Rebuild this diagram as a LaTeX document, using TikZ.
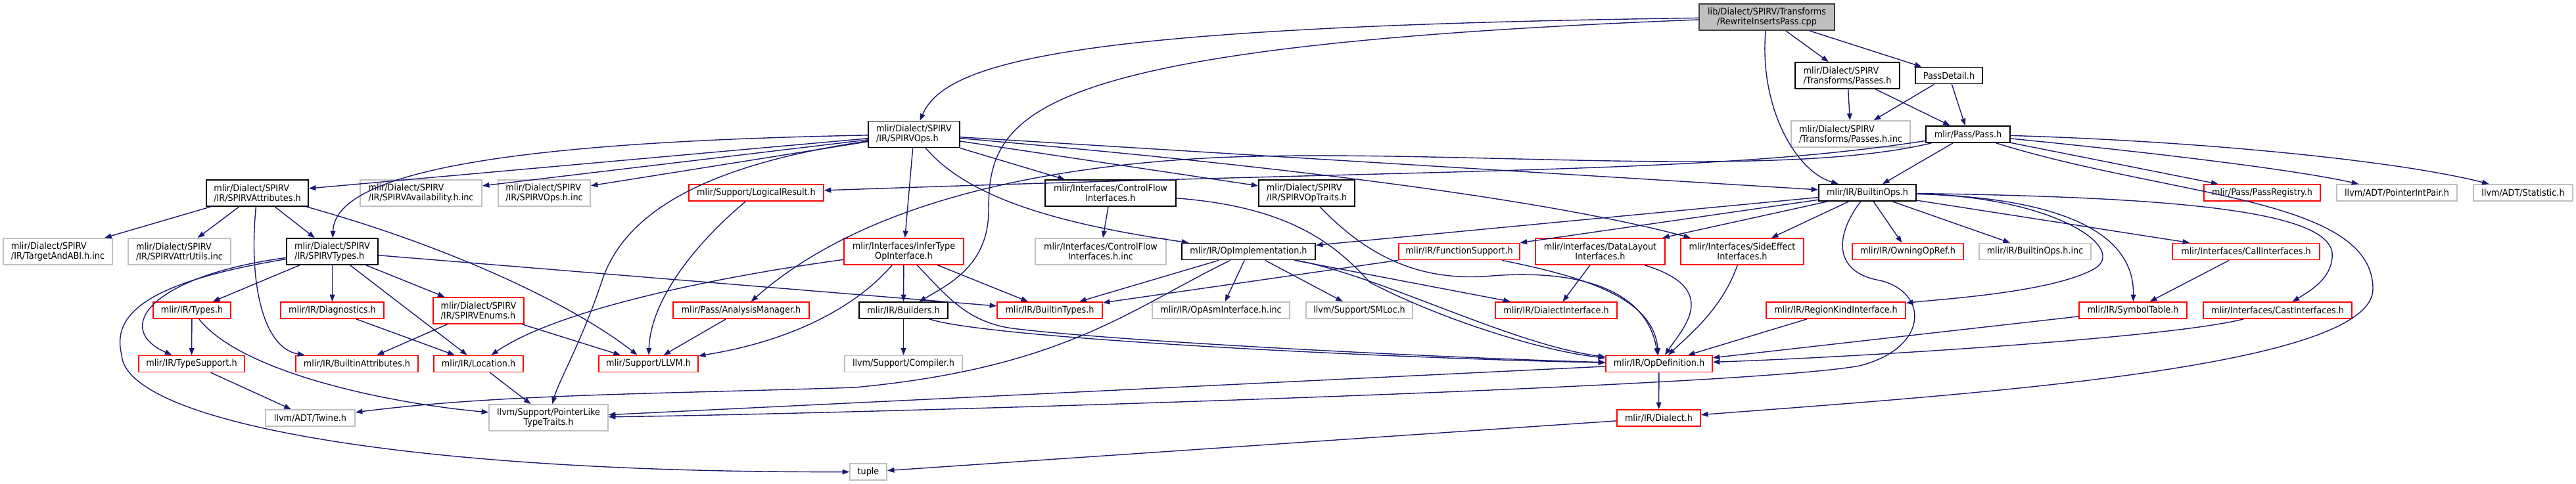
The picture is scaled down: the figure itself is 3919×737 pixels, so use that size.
\documentclass[tikz,border=0pt]{standalone}
\usepackage{fontspec}
\setmainfont{DejaVu Sans}[FakeStretch=0.91]
\usetikzlibrary{arrows.meta}
\usepackage{xcolor}

\definecolor{edgeblue}{HTML}{191970}
\definecolor{extgray}{HTML}{BFBFBF}
\definecolor{rootline}{HTML}{404040}

\begin{document}
\begin{tikzpicture}[x=0.25mm, y=-0.25mm,
        box/.style={draw, rectangle, fill=white, inner sep=0pt, line width=1.2pt,
                    font=\fontsize{10}{10.7}\selectfont},
        docbox/.style={box, draw=black},
        redbox/.style={box, draw=red},
        extbox/.style={box, draw=extgray},
        rootbox/.style={box, draw=rootline, fill=extgray},
        bw/.style={minimum width=#1*0.25mm},
        oneline/.style={minimum height=25*0.25mm},
        twoline/.style={minimum height=40*0.25mm, align=left},
        twolinec/.style={minimum height=40*0.25mm, align=center},
        dep/.style={draw=edgeblue, line width=1pt, -{Triangle[length=7.5pt, width=5.5pt]}}
    ]
        \useasboundingbox (0,0) rectangle (3919,737);

        \node[rootbox, bw=206, twolinec] (root) at (2688,26) {lib/Dialect/SPIRV/Transforms\\/RewriteInsertsPass.cpp};

        \node[docbox, bw=159, twoline] (passesH) at (2810.5,115) {mlir/Dialect/SPIRV\\/Transforms/Passes.h};
        \node[docbox, bw=102, oneline] (passDetail) at (2965,115) {PassDetail.h};

        \node[docbox, bw=139, twoline] (spirvOps) at (1390.5,204.5) {mlir/Dialect/SPIRV\\/IR/SPIRVOps.h};
        \node[extbox, bw=181, twoline] (passesInc) at (2815.5,204) {mlir/Dialect/SPIRV\\/Transforms/Passes.h.inc};
        \node[docbox, bw=128, oneline] (pass) at (2994,204.5) {mlir/Pass/Pass.h};

        \node[docbox, bw=155, twoline] (spirvAttr) at (391.5,294) {mlir/Dialect/SPIRV\\/IR/SPIRVAttributes.h};
        \node[extbox, bw=185, twoline] (spirvAvail) at (640.5,294) {mlir/Dialect/SPIRV\\/IR/SPIRVAvailability.h.inc};
        \node[extbox, bw=140, twoline] (spirvOpsInc) at (828,294) {mlir/Dialect/SPIRV\\/IR/SPIRVOps.h.inc};
        \node[redbox, bw=205, oneline] (logicalResult) at (1150.5,293.5) {mlir/Support/LogicalResult.h};
        \node[docbox, bw=199, twolinec] (controlFlow) at (1689.5,294) {mlir/Interfaces/ControlFlow\\Interfaces.h};
        \node[docbox, bw=146, twoline] (spirvOpTraits) at (1988,294) {mlir/Dialect/SPIRV\\/IR/SPIRVOpTraits.h};
        \node[docbox, bw=148, oneline] (builtinOps) at (2841,293.5) {mlir/IR/BuiltinOps.h};
        \node[redbox, bw=177, oneline] (passRegistry) at (3441.5,293.5) {mlir/Pass/PassRegistry.h};
        \node[extbox, bw=183, oneline] (pointerIntPair) at (3646.5,293.5) {llvm/ADT/PointerIntPair.h};
        \node[extbox, bw=151, oneline] (statistic) at (3838.5,293.5) {llvm/ADT/Statistic.h};

        \node[extbox, bw=166, twoline] (targetAbi) at (88,383) {mlir/Dialect/SPIRV\\/IR/TargetAndABI.h.inc};
        \node[extbox, bw=156, twoline] (attrUtils) at (273,383) {mlir/Dialect/SPIRV\\/IR/SPIRVAttrUtils.inc};
        \node[docbox, bw=139, twoline] (spirvTypes) at (505.5,383) {mlir/Dialect/SPIRV\\/IR/SPIRVTypes.h};
        \node[redbox, bw=182, twolinec] (inferType) at (1375,383) {mlir/Interfaces/InferType\\OpInterface.h};
        \node[extbox, bw=199, twolinec] (controlFlowInc) at (1674.5,383) {mlir/Interfaces/ControlFlow\\Interfaces.h.inc};
        \node[docbox, bw=203, oneline] (opImpl) at (1899.5,383) {mlir/IR/OpImplementation.h};
        \node[redbox, bw=184, oneline] (funcSupport) at (2220,383) {mlir/IR/FunctionSupport.h};
        \node[redbox, bw=197, twolinec] (dataLayout) at (2434.5,383) {mlir/Interfaces/DataLayout\\Interfaces.h};
        \node[redbox, bw=187, twolinec] (sideEffect) at (2650.5,383) {mlir/Interfaces/SideEffect\\Interfaces.h};
        \node[redbox, bw=169, oneline] (owningOpRef) at (2902.5,383) {mlir/IR/OwningOpRef.h};
        \node[extbox, bw=170, oneline] (builtinOpsInc) at (3096,383) {mlir/IR/BuiltinOps.h.inc};
        \node[redbox, bw=224, oneline] (callIfaces) at (3417,383) {mlir/Interfaces/CallInterfaces.h};

        \node[redbox, bw=118, oneline] (types) at (292,472.5) {mlir/IR/Types.h};
        \node[redbox, bw=157, oneline] (diagnostics) at (505.5,472.5) {mlir/IR/Diagnostics.h};
        \node[redbox, bw=138, twoline] (spirvEnums) at (728,473) {mlir/Dialect/SPIRV\\/IR/SPIRVEnums.h};
        \node[redbox, bw=207, oneline] (analysisMgr) at (1127.5,472.5) {mlir/Pass/AnalysisManager.h};
        \node[docbox, bw=135, oneline] (builders) at (1374.5,472.5) {mlir/IR/Builders.h};
        \node[redbox, bw=160, oneline] (builtinTypes) at (1597,472.5) {mlir/IR/BuiltinTypes.h};
        \node[extbox, bw=209, oneline] (opAsmInc) at (1857.5,472.5) {mlir/IR/OpAsmInterface.h.inc};
        \node[extbox, bw=162, oneline] (smLoc) at (2068,472.5) {llvm/Support/SMLoc.h};
        \node[redbox, bw=185, oneline] (dialectIface) at (2367.5,472.5) {mlir/IR/DialectInterface.h};
        \node[redbox, bw=212, oneline] (regionKind) at (2793,472.5) {mlir/IR/RegionKindInterface.h};
        \node[redbox, bw=164, oneline] (symbolTable) at (3245,472.5) {mlir/IR/SymbolTable.h};
        \node[redbox, bw=226, oneline] (castIfaces) at (3465,472.5) {mlir/Interfaces/CastInterfaces.h};

        \node[redbox, bw=161, oneline] (typeSupport) at (291.5,554) {mlir/IR/TypeSupport.h};
        \node[redbox, bw=186, oneline] (builtinAttrs) at (543,554) {mlir/IR/BuiltinAttributes.h};
        \node[redbox, bw=136, oneline] (location) at (728,554) {mlir/IR/Location.h};
        \node[redbox, bw=151, oneline] (llvmH) at (986.5,554) {mlir/Support/LLVM.h};
        \node[extbox, bw=179, oneline] (compiler) at (1374.5,554) {llvm/Support/Compiler.h};
        \node[redbox, bw=162, oneline] (opDef) at (2524,554) {mlir/IR/OpDefinition.h};

        \node[extbox, bw=136, oneline] (twine) at (472,636.5) {llvm/ADT/Twine.h};
        \node[extbox, bw=181, twolinec] (pointerLike) at (834.5,636) {llvm/Support/PointerLike\\TypeTraits.h};
        \node[redbox, bw=127, oneline] (dialect) at (2523.5,636.5) {mlir/IR/Dialect.h};

        \node[extbox, bw=56, oneline] (tuple) at (1321,718.5) {tuple};

        \draw[dep] (root) .. controls (1650,40) and (1440,90) .. (spirvOps);
        \draw[dep] (root) .. controls (1560,70) and (1504,170) .. (1504,320) .. controls (1504,400) and (1450,430) .. (builders);
        \draw[dep] (root) -- (passesH);
        \draw[dep] (root) -- (passDetail);
        \draw[dep] (root) .. controls (2676,160) and (2730,260) .. (builtinOps);

        \draw[dep] (passesH) -- (passesInc);
        \draw[dep] (passesH) -- (pass);
        \draw[dep] (passDetail) -- (passesInc);
        \draw[dep] (passDetail) -- (pass);

        \draw[dep] (pass) -- (builtinOps);
        \draw[dep] (pass) -- (passRegistry);
        \draw[dep] (pass) .. controls (3300,235) and (3500,260) .. (pointerIntPair);
        \draw[dep] (pass) .. controls (3350,215) and (3650,245) .. (statistic);
        \draw[dep] (pass) .. controls (2600,265) and (2250,255) .. (logicalResult);
        \draw[dep] (pass) .. controls (2700,275) and (2200,225) .. (1850,240) .. controls (1550,255) and (1300,320) .. (analysisMgr);
        \draw[dep] (pass) .. controls (3300,300) and (3610,300) .. (3610,440) .. controls (3610,560) and (3000,600) .. (dialect);

        \draw[dep] (spirvOps) -- (spirvAttr);
        \draw[dep] (spirvOps) .. controls (850,215) and (510,250) .. (spirvTypes);
        \draw[dep] (spirvOps) -- (spirvAvail);
        \draw[dep] (spirvOps) -- (spirvOpsInc);
        \draw[dep] (spirvOps) .. controls (1080,250) and (950,320) .. (915,430) .. controls (885,520) and (850,580) .. (pointerLike);
        \draw[dep] (spirvOps) -- (inferType);
        \draw[dep] (spirvOps) .. controls (1480,310) and (1640,345) .. (opImpl);
        \draw[dep] (spirvOps) -- (controlFlow);
        \draw[dep] (spirvOps) -- (spirvOpTraits);
        \draw[dep] (spirvOps) -- (builtinOps);
        \draw[dep] (spirvOps) .. controls (1800,240) and (2300,290) .. (sideEffect);

        \draw[dep] (spirvAttr) -- (targetAbi);
        \draw[dep] (spirvAttr) -- (attrUtils);
        \draw[dep] (spirvAttr) .. controls (378,430) and (400,530) .. (builtinAttrs);
        \draw[dep] (spirvAttr) -- (spirvTypes);
        \draw[dep] (spirvAttr) .. controls (700,380) and (880,470) .. (llvmH);

        \draw[dep] (spirvTypes) -- (types);
        \draw[dep] (spirvTypes) -- (diagnostics);
        \draw[dep] (spirvTypes) -- (spirvEnums);
        \draw[dep] (spirvTypes) -- (location);
        \draw[dep] (spirvTypes) .. controls (230,420) and (170,500) .. (typeSupport);
        \draw[dep] (spirvTypes) .. controls (220,430) and (170,480) .. (185,540) .. controls (190,640) and (600,720) .. (tuple);
        \draw[dep] (spirvTypes) -- (builtinTypes);

        \draw[dep] (types) -- (typeSupport);
        \draw[dep] (types) .. controls (370,570) and (600,615) .. (pointerLike);
        \draw[dep] (diagnostics) -- (location);
        \draw[dep] (spirvEnums) -- (builtinAttrs);
        \draw[dep] (spirvEnums) -- (llvmH);
        \draw[dep] (typeSupport) -- (twine);
        \draw[dep] (location) -- (pointerLike);
        \draw[dep] (logicalResult) .. controls (1070,360) and (990,450) .. (llvmH);

        \draw[dep] (controlFlow) -- (controlFlowInc);
        \draw[dep] (controlFlow) .. controls (1960,315) and (2030,370) .. (2084,430) .. controls (2200,490) and (2350,535) .. (opDef);
        \draw[dep] (spirvOpTraits) .. controls (2080,390) and (2160,430) .. (2270,420) .. controls (2400,410) and (2505,440) .. (opDef);

        \draw[dep] (inferType) .. controls (1100,420) and (850,470) .. (location);
        \draw[dep] (inferType) .. controls (1300,470) and (1200,520) .. (llvmH);
        \draw[dep] (inferType) -- (builders);
        \draw[dep] (inferType) -- (builtinTypes);
        \draw[dep] (inferType) .. controls (1440,450) and (1470,490) .. (1540,500) .. controls (1700,520) and (2200,545) .. (opDef);

        \draw[dep] (builders) -- (compiler);
        \draw[dep] (builders) .. controls (1500,515) and (2100,545) .. (opDef);
        \draw[dep] (analysisMgr) -- (llvmH);

        \draw[dep] (opImpl) -- (builtinTypes);
        \draw[dep] (opImpl) .. controls (1720,470) and (1620,560) .. (1300,590) .. controls (1000,600) and (760,600) .. (twine);
        \draw[dep] (opImpl) -- (opAsmInc);
        \draw[dep] (opImpl) -- (smLoc);
        \draw[dep] (opImpl) -- (dialectIface);
        \draw[dep] (opImpl) .. controls (2100,420) and (2300,525) .. (opDef);

        \draw[dep] (builtinOps) -- (opImpl);
        \draw[dep] (builtinOps) -- (funcSupport);
        \draw[dep] (builtinOps) -- (dataLayout);
        \draw[dep] (builtinOps) -- (sideEffect);
        \draw[dep] (builtinOps) -- (owningOpRef);
        \draw[dep] (builtinOps) -- (builtinOpsInc);
        \draw[dep] (builtinOps) -- (callIfaces);
        \draw[dep] (builtinOps) .. controls (3100,300) and (3248,340) .. (symbolTable);
        \draw[dep] (builtinOps) .. controls (3130,300) and (3240,380) .. (3185,410) .. controls (3120,445) and (2960,455) .. (regionKind);
        \draw[dep] (builtinOps) .. controls (3300,300) and (3540,320) .. (3548,385) .. controls (3550,420) and (3520,440) .. (castIfaces);
        \draw[dep] (builtinOps) .. controls (2790,360) and (2790,415) .. (2860,427) .. controls (2935,445) and (2935,530) .. (2829,557) .. controls (2650,590) and (1300,630) .. (pointerLike);

        \draw[dep] (funcSupport) -- (builtinTypes);
        \draw[dep] (funcSupport) .. controls (2400,420) and (2515,450) .. (opDef);
        \draw[dep] (dataLayout) -- (dialectIface);
        \draw[dep] (dataLayout) .. controls (2620,440) and (2560,500) .. (opDef);
        \draw[dep] (sideEffect) .. controls (2620,470) and (2570,510) .. (opDef);
        \draw[dep] (regionKind) -- (opDef);
        \draw[dep] (symbolTable) -- (opDef);
        \draw[dep] (castIfaces) .. controls (3300,515) and (2800,545) .. (opDef);
        \draw[dep] (callIfaces) -- (symbolTable);
        \draw[dep] (opDef) -- (dialect);
        \draw[dep] (opDef) -- (pointerLike);
        \draw[dep] (dialect) -- (tuple);
    \end{tikzpicture}
\end{document}
